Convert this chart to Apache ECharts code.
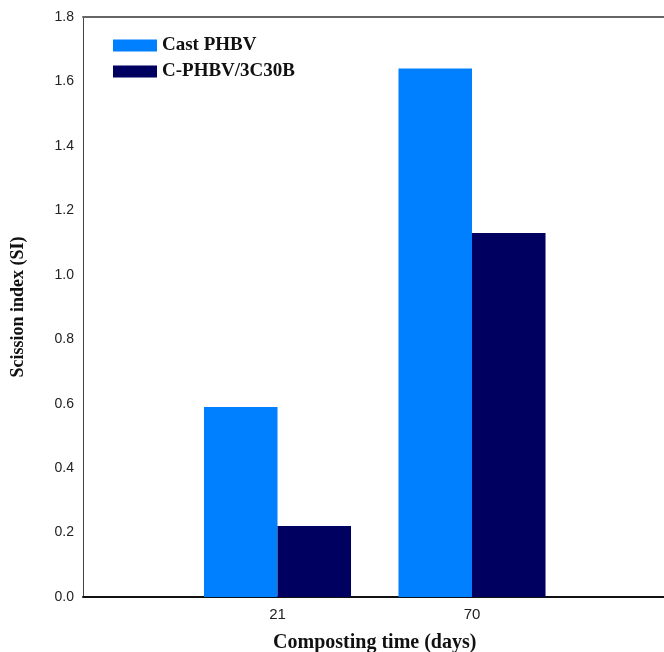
<!DOCTYPE html>
<html>
<head>
<meta charset="utf-8">
<script src="https://cdn.jsdelivr.net/npm/echarts@6/dist/echarts.min.js"></script>
<style>html,body{margin:0;padding:0;background:#fff}#c{width:664px;height:652px}</style>
</head>
<body>
<div id="c"></div>
<script>
const categories = ['', '21', '70', ''];
const castPHBV = [null, 0.59, 1.64, null];
const cPHBV3C30B = [null, 0.22, 1.13, null];
const yTicks = {min: 0, max: 1.8, interval: 0.2};

const chart = echarts.init(document.getElementById('c'));
const serif = '"Liberation Serif", "Times New Roman", serif';
const sans = '"Liberation Sans", Arial, sans-serif';
chart.setOption({
  animation: false,
  grid: {left: 83, top: 17, width: 583.5, bottom: 55, containLabel: false, outerBoundsMode: 'none'},
  legend: {
    left: 108, top: 31, orient: 'vertical', itemWidth: 44, itemHeight: 12, itemGap: 7,
    textStyle: {fontFamily: serif, fontWeight: 'bold', fontSize: 19, color: '#111'},
    data: ['Cast PHBV', 'C-PHBV/3C30B'],
    icon: 'rect'
  },
  xAxis: [{
    type: 'category', data: categories, boundaryGap: false,
    axisLine: {lineStyle: {color: '#111', width: 2}},
    axisTick: {show: false},
    axisLabel: {fontFamily: sans, fontSize: 15, color: '#222', margin: 10},
    name: 'Composting time (days)', nameLocation: 'middle', nameGap: 36,
    nameTextStyle: {fontFamily: serif, fontWeight: 'bold', fontSize: 20, color: '#111'},
    splitLine: {show: false}
  }, {
    type: 'category', data: categories, boundaryGap: false, position: 'top',
    axisLine: {lineStyle: {color: '#666', width: 2}},
    axisTick: {show: false}, axisLabel: {show: false}, splitLine: {show: false}
  }],
  yAxis: {
    type: 'value', min: yTicks.min, max: yTicks.max, interval: yTicks.interval,
    axisLine: {show: true, lineStyle: {color: '#444', width: 1}},
    axisTick: {show: false},
    splitLine: {show: false},
    axisLabel: {fontFamily: sans, fontSize: 14, color: '#222', margin: 9,
      formatter: v => v.toFixed(1)},
    name: 'Scission index (SI)', nameLocation: 'middle', nameGap: 56,
    nameTextStyle: {fontFamily: serif, fontWeight: 'bold', fontSize: 18, color: '#111'}
  },
  series: [
    {name: 'Cast PHBV', type: 'bar', data: castPHBV, barGap: '0%', barCategoryGap: '24.4%',
      itemStyle: {color: '#0080FF'}},
    {name: 'C-PHBV/3C30B', type: 'bar', data: cPHBV3C30B, barGap: '0%', barCategoryGap: '24.4%',
      itemStyle: {color: '#000060'}}
  ]
});
</script>
</body>
</html>
